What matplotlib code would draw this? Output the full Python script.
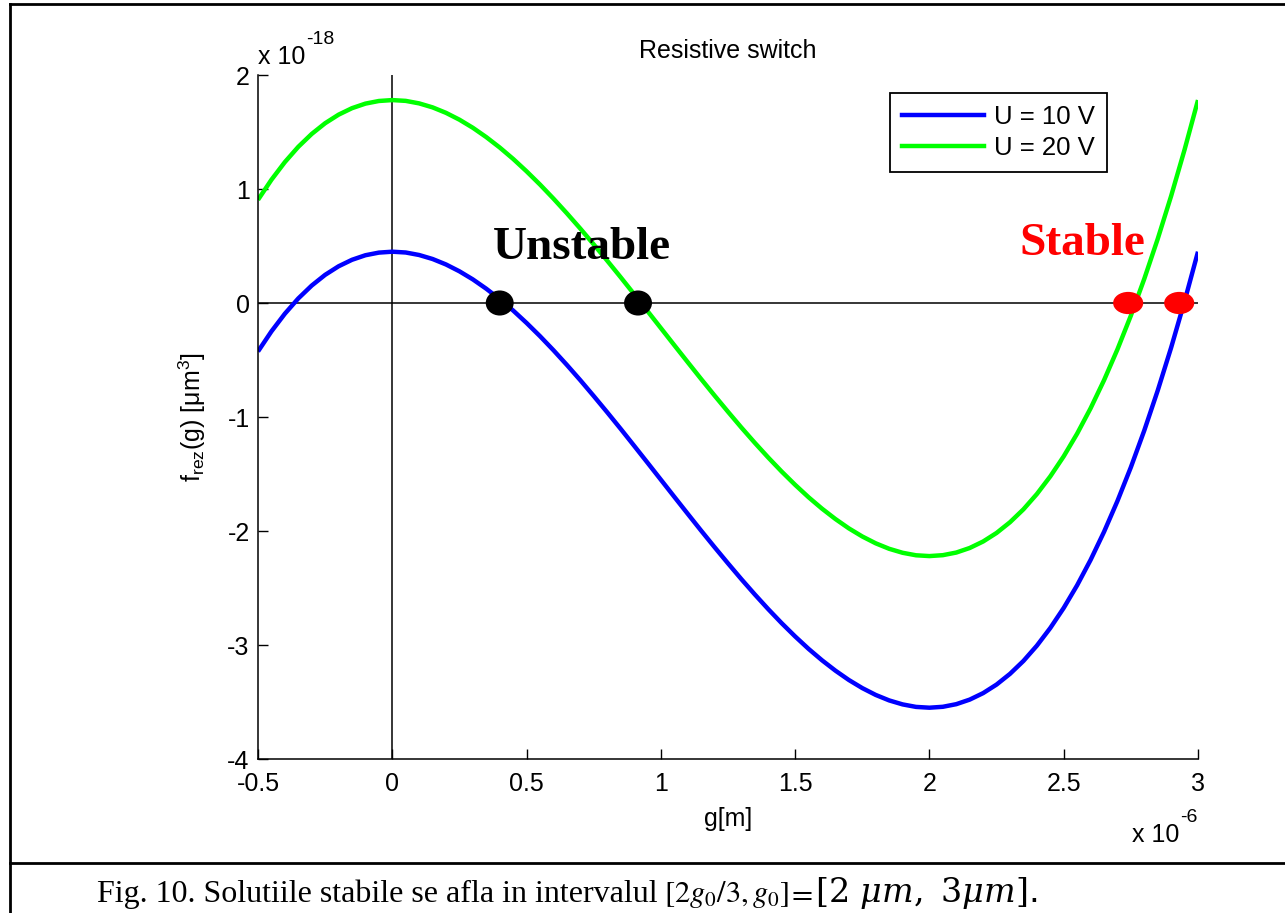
import matplotlib
matplotlib.use("Agg")
import matplotlib.pyplot as plt
from matplotlib.patches import Ellipse
from matplotlib.lines import Line2D

# ---- data (g in micrometres, f in 1e-18 units) ----
g_um = [-0.5, -0.45, -0.4, -0.35, -0.3, -0.25, -0.2, -0.15, -0.1, -0.05,
        0.0, 0.05, 0.1, 0.15, 0.2, 0.25, 0.3, 0.35, 0.4, 0.45,
        0.5, 0.55, 0.6, 0.65, 0.7, 0.75, 0.8, 0.85, 0.9, 0.95,
        1.0, 1.05, 1.1, 1.15, 1.2, 1.25, 1.3, 1.35, 1.4, 1.45,
        1.5, 1.55, 1.6, 1.65, 1.7, 1.75, 1.8, 1.85, 1.9, 1.95,
        2.0, 2.05, 2.1, 2.15, 2.2, 2.25, 2.3, 2.35, 2.4, 2.45,
        2.5, 2.55, 2.6, 2.65, 2.7, 2.75, 2.8, 2.85, 2.9, 2.95, 3.0]
f_10V = [-0.425, -0.249, -0.094, 0.040, 0.153, 0.247, 0.322, 0.379, 0.419, 0.442,
         0.450, 0.443, 0.421, 0.386, 0.338, 0.278, 0.207, 0.125, 0.034, -0.066,
         -0.175, -0.291, -0.414, -0.543, -0.677, -0.816, -0.958, -1.103, -1.251, -1.400,
         -1.550, -1.700, -1.849, -1.997, -2.142, -2.284, -2.423, -2.557, -2.686, -2.809,
         -2.925, -3.034, -3.134, -3.225, -3.307, -3.378, -3.438, -3.486, -3.521, -3.543,
         -3.550, -3.542, -3.519, -3.479, -3.422, -3.347, -3.253, -3.140, -3.006, -2.851,
         -2.675, -2.476, -2.254, -2.008, -1.737, -1.441, -1.118, -0.768, -0.391, 0.015, 0.450]
f_20V = [0.905, 1.081, 1.236, 1.370, 1.483, 1.577, 1.652, 1.709, 1.749, 1.772,
         1.780, 1.773, 1.751, 1.716, 1.668, 1.608, 1.537, 1.455, 1.364, 1.264,
         1.155, 1.039, 0.916, 0.787, 0.653, 0.514, 0.372, 0.227, 0.079, -0.070,
         -0.220, -0.370, -0.519, -0.667, -0.812, -0.954, -1.093, -1.227, -1.356, -1.479,
         -1.595, -1.704, -1.804, -1.895, -1.977, -2.048, -2.108, -2.156, -2.191, -2.213,
         -2.220, -2.212, -2.189, -2.149, -2.092, -2.017, -1.923, -1.810, -1.676, -1.521,
         -1.345, -1.146, -0.924, -0.678, -0.407, -0.111, 0.212, 0.562, 0.939, 1.345, 1.780]
series_labels = ["U = 10 V", "U = 20 V"]
unstable_roots = [0.40, 0.915]
stable_roots = [2.74, 2.93]
x_ticks = [-0.5, 0, 0.5, 1, 1.5, 2, 2.5, 3]
x_tick_labels = ["-0.5", "0", "0.5", "1", "1.5", "2", "2.5", "3"]
y_ticks = [-4, -3, -2, -1, 0, 1, 2]
y_tick_labels = ["-4", "-3", "-2", "-1", "0", "1", "2"]

W, H = 1285, 913
fig = plt.figure(figsize=(W / 100, H / 100), dpi=100)
fig.patch.set_facecolor("white")

def fx(px):
    return px / W

def fy(py):
    return 1 - py / H

ax = fig.add_axes([fx(258), fy(759), fx(1198) - fx(258), fy(75) - fy(759)])
ax.set_xlim(-0.5, 3.0)
ax.set_ylim(-4, 2)

sans = ["Liberation Sans", "Arial", "DejaVu Sans"]
serif = ["Liberation Serif", "Times New Roman", "DejaVu Serif"]

# axes lines
ax.plot([0, 0], [-4, 2], color="black", lw=1.1, zorder=1)
ax.plot([-0.5, 3.0], [0, 0], color="black", lw=1.1, zorder=1)

ax.plot(g_um, f_10V, color="#0000ff", lw=3.2, zorder=2, solid_capstyle="butt")
ax.plot(g_um, f_20V, color="#00ff00", lw=3.2, zorder=2, solid_capstyle="butt")

for r in unstable_roots:
    ax.add_patch(Ellipse((r, 0), 0.104, 0.22, facecolor="black", edgecolor="none", zorder=3))
for r in stable_roots:
    ax.add_patch(Ellipse((r, 0), 0.112, 0.195, facecolor="red", edgecolor="none", zorder=3))

ax.text(0.375, 0.39, "Unstable", family=serif, fontsize=34, fontweight="bold",
        color="black", ha="left", va="baseline", zorder=4)
ax.text(2.337, 0.42, "Stable", family=serif, fontsize=34, fontweight="bold",
        color="red", ha="left", va="baseline", zorder=4)

# spines / ticks
for s in ["top", "right"]:
    ax.spines[s].set_visible(False)
for s in ["left", "bottom"]:
    ax.spines[s].set_linewidth(1.1)
ax.set_xticks(x_ticks)
ax.set_xticklabels(x_tick_labels, family=sans, fontsize=18)
ax.set_yticks(y_ticks)
ax.set_yticklabels(y_tick_labels, family=sans, fontsize=18)
ax.tick_params(direction="in", length=7, width=1.0)
ax.tick_params(axis="x", pad=9)
ax.tick_params(axis="y", pad=6)

ax.set_title("Resistive switch", family=sans, fontsize=18, pad=12)
ax.set_xlabel("g[m]", family=sans, fontsize=18, labelpad=8)
ax.set_ylabel(r"f$_{\mathregular{rez}}$(g) [$\mathregular{\mu}$m$^{\mathregular{3}}$]",
              family=sans, fontsize=18, labelpad=14)

# exponent labels
fig.text(fx(258), fy(64), "x 10", family=sans, fontsize=18, ha="left", va="baseline")
fig.text(fx(306), fy(44), "-18", family=sans, fontsize=14, ha="left", va="baseline")
fig.text(fx(1132), fy(842), "x 10", family=sans, fontsize=18, ha="left", va="baseline")
fig.text(fx(1180), fy(822), "-6", family=sans, fontsize=14, ha="left", va="baseline")

# legend
handles = [Line2D([], [], color="#0000ff", lw=3.2), Line2D([], [], color="#00ff00", lw=3.2)]
leg = ax.legend(handles, series_labels, loc="upper left",
                bbox_to_anchor=(fx(890), fy(93)), bbox_transform=fig.transFigure,
                borderaxespad=0, fancybox=False, framealpha=1, edgecolor="black",
                prop={"family": sans, "size": 18.5}, handlelength=3.2,
                handletextpad=0.4, borderpad=0.45, labelspacing=0.3)
leg.get_frame().set_linewidth(1.3)

# figure frame and caption
frame_kw = dict(color="black", lw=2.0, transform=fig.transFigure)
fig.add_artist(Line2D([fx(10), 1], [fy(4), fy(4)], **frame_kw))
fig.add_artist(Line2D([fx(10), fx(10)], [fy(4), 0], **frame_kw))
fig.add_artist(Line2D([fx(10), 1], [fy(863), fy(863)], **frame_kw))

fig.text(fx(97), fy(902), "Fig. 10. Solutiile stabile se afla in intervalul",
         family=serif, fontsize=23, ha="left", va="baseline")
fig.text(fx(664), fy(902), r"$[2g_0/3, g_0]$", fontsize=22, ha="left", va="baseline",
         math_fontfamily="stix")
fig.text(fx(787), fy(902), r"$=$", fontsize=22, ha="left", va="baseline",
         math_fontfamily="stix")
fig.text(fx(815), fy(902), r"$[2\ \mu m,\ 3\mu m]$.", fontsize=24, ha="left", va="baseline",
         math_fontfamily="dejavuserif")

fig.savefig("out.png", dpi=100, facecolor="white")
